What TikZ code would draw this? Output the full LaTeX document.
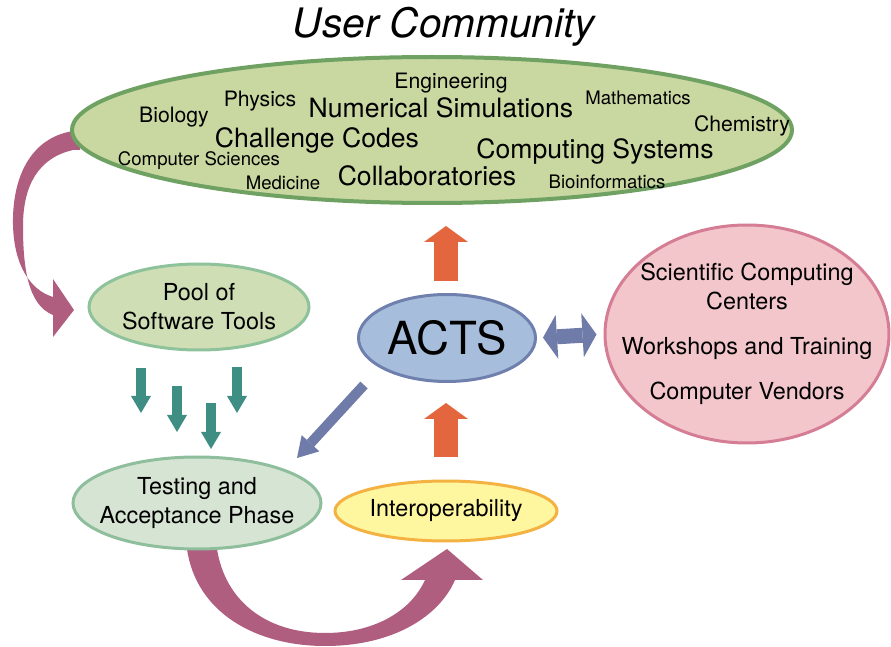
\documentclass[tikz,border=0pt]{standalone}
\usepackage{fontspec}
\setmainfont{TeX Gyre Heros}
\usepackage{tikz}
\usetikzlibrary{arrows.meta,shapes.geometric}
\definecolor{usersfill}{HTML}{C9D7A1}
\definecolor{usersline}{HTML}{6FA262}
\definecolor{poolfill}{HTML}{CFDEB5}
\definecolor{poolline}{HTML}{8EC29B}
\definecolor{testfill}{HTML}{D6E4D3}
\definecolor{testline}{HTML}{8FBE9C}
\definecolor{actsfill}{HTML}{A6BEDB}
\definecolor{actsline}{HTML}{6F80AE}
\definecolor{centerfill}{HTML}{F2C6CB}
\definecolor{centerline}{HTML}{D57D94}
\definecolor{interfill}{HTML}{FFF6A0}
\definecolor{interline}{HTML}{F4B243}
\definecolor{uporange}{HTML}{E3663F}
\definecolor{linkblue}{HTML}{6F7BA8}
\definecolor{poolteal}{HTML}{3F8E84}
\definecolor{loopmauve}{HTML}{AF5E7F}
\tikzset{
    bubble/.style={ellipse,inner sep=0pt,align=center,line width=1.5pt},
    users bubble/.style={bubble,fill=usersfill,draw=usersline,line width=2pt,minimum width=360pt,minimum height=73pt},
    pool bubble/.style={bubble,fill=poolfill,draw=poolline,minimum width=110pt,minimum height=43pt},
    test bubble/.style={bubble,fill=testfill,draw=testline,inner xsep=-6pt,minimum width=124pt,minimum height=46pt},
    acts bubble/.style={bubble,fill=actsfill,draw=actsline,minimum width=88.5pt,minimum height=43.5pt,font=\fontsize{22.8}{26}\selectfont},
    center bubble/.style={bubble,fill=centerfill,draw=centerline,inner xsep=-16pt,minimum width=142pt,minimum height=109pt},
    inter bubble/.style={bubble,fill=interfill,draw=interline,minimum width=111pt,minimum height=30pt},
    community title/.style={anchor=base,font=\itshape\fontsize{20.3}{24}\selectfont},
    big word/.style={anchor=base,font=\fontsize{13.3}{16}\selectfont},
    mid word/.style={anchor=base,font=\fontsize{10.6}{13}\selectfont},
    small word/.style={anchor=base,font=\fontsize{9.3}{11}\selectfont},
    up arr/.style={draw=uporange,line width=12pt,-{Triangle[line width=0pt,width=22pt,length=8pt]}},
    link arr/.style={draw=linkblue,line width=5pt,-{Triangle[line width=0pt,width=12pt,length=10pt]}},
    link darr/.style={draw=linkblue,line width=7.5pt,{Triangle[line width=0pt,width=22pt,length=7pt]}-{Triangle[line width=0pt,width=22pt,length=7pt]}},
    pool arr/.style={draw=poolteal,line width=5pt,-{Triangle[line width=0pt,width=10pt,length=8.5pt]}},
    loop arr/.style={fill=loopmauve},
}
\tikzstyle{every node}=[font=\fontsize{11.7}{14.5}\selectfont]

\begin{document}
\begin{tikzpicture}[x=0.5pt,y=-0.5pt]
    \useasboundingbox (0,0) rectangle (891,647);

    % curved arrows first, so the bubbles cover their ends
    \fill[loop arr] (80,131) -- (73,131) .. controls (30,138) and (12,178) .. (13,225)
        .. controls (14,265) and (30,290) .. (53,297) -- (53,279) -- (74,310) -- (53,337) -- (53,315)
        .. controls (28,305) and (23,268) .. (23,226) .. controls (23,186) and (38,158) .. (73,150)
        -- (80,150) -- cycle;
    \fill[loop arr] (186,540) -- (187,549) .. controls (196,612) and (255,646) .. (325,646)
        .. controls (395,646) and (440,615) .. (455,580) -- (483,580) -- (447,549) -- (401,580) -- (425,580)
        .. controls (410,613) and (372,633) .. (325,633) .. controls (265,633) and (225,600) .. (217,549)
        -- (217,540) -- cycle;

    \node[community title] (title) at (444,38) {User Community};
    \node[users bubble] (users) at (432,130) {};
    \node[mid word] (eng) at (451,89) {Engineering};
    \node[mid word] (phys) at (260,107) {Physics};
    \node[mid word] (bio) at (174,123) {Biology};
    \node[big word] (numsim) at (441,118) {Numerical Simulations};
    \node[small word] (math) at (638,105) {Mathematics};
    \node[mid word] (chem) at (742,132) {Chemistry};
    \node[big word] (chcodes) at (317,148) {Challenge Codes};
    \node[big word] (compsys) at (595,159) {Computing Systems};
    \node[small word] (compsci) at (199,166) {Computer Sciences};
    \node[small word] (med) at (283,190) {Medicine};
    \node[big word] (collab) at (427,186) {Collaboratories};
    \node[small word] (bioinf) at (607,189) {Bioinformatics};

    \node[pool bubble] (pool) at (199,307) {Pool of\\Software Tools};
    \node[test bubble] (testing) at (197,503) {Testing and\\Acceptance Phase};
    \node[acts bubble] (acts) at (447,338) {ACTS};
    \node[center bubble] (centers) at (747,334) {Scientific Computing\\Centers\\[8pt]Workshops and Training\\[8pt]Computer Vendors};
    \node[inter bubble] (interop) at (446,511) {Interoperability};

    % block arrows
    \coordinate (upA) at (446,281);
    \coordinate (upB) at (446,226);
    \coordinate (upC) at (446,457);
    \coordinate (upD) at (446,403);
    \draw[up arr] (upA) -- (upB);
    \draw[up arr] (upC) -- (upD);
    \draw[link darr,shorten <=3pt,shorten >=3.5pt] (acts.east) -- (centers.west);
    \coordinate (diagA) at (364,385);
    \coordinate (diagB) at (297,458);
    \draw[link arr] (diagA) -- (diagB);
    \foreach \i/\x/\a/\b in {1/141/368/413,2/177/386/432,3/211/403/449,4/237/367/413} {
        \coordinate (tin\i) at (\x,\a);
        \coordinate (tout\i) at (\x,\b);
        \draw[pool arr] (tin\i) -- (tout\i);
    }
\end{tikzpicture}
\end{document}
